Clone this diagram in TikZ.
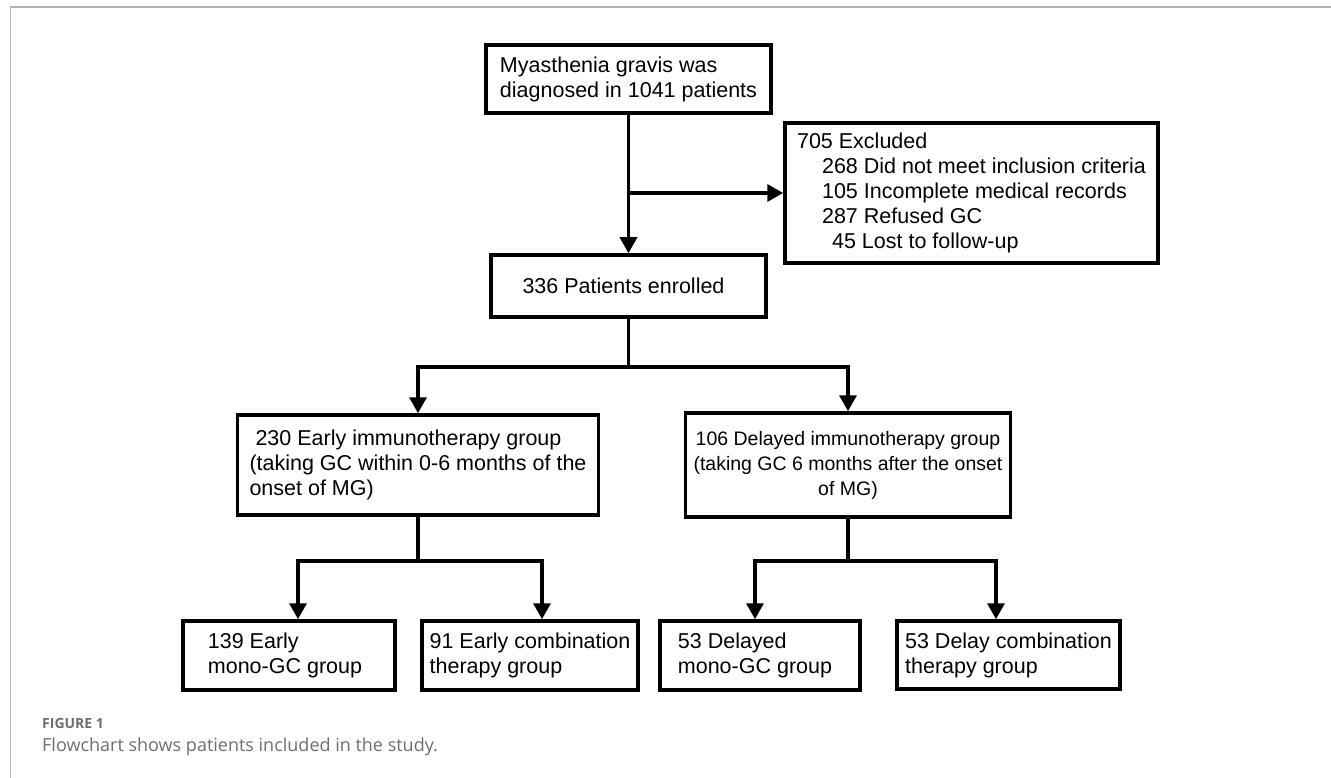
\documentclass[tikz,border=0pt]{standalone}
\usepackage{fontspec}
\setmainfont{Liberation Sans}
\newfontfamily\capfont{Open Sans}
\usetikzlibrary{arrows.meta}
\definecolor{capgray}{HTML}{6D6E71}
\definecolor{framegray}{HTML}{B4B4B4}
\tikzset{
  box/.style={draw, line width=3.5pt, inner sep=0pt, align=left,
    font=\fontsize{21.5}{25}\selectfont},
  conn/.style={line width=3.5pt},
  arr/.style={conn, -{Triangle[length=16pt,width=17pt]}},
}
\begin{document}
\begin{tikzpicture}[x=1pt,y=-1pt]
\useasboundingbox (0,0) rectangle (1331,778);
% frame
\draw[framegray, line width=2pt] (10,7) -- (1331,7);
\draw[framegray, line width=1pt] (10,7) -- (10,778);

% boxes
\node[box, minimum width=285pt, minimum height=68pt] (top) at (628.5,79)
  {Myasthenia gravis was\\diagnosed in 1041 patients};
\node[box, minimum width=373pt, minimum height=140pt] (excl) at (971.5,193)
  {705 Excluded\\
   \hspace*{25pt}268 Did not meet inclusion criteria\\
   \hspace*{25pt}105 Incomplete medical records\\
   \hspace*{25pt}287 Refused GC\\
   \hspace*{35pt}45 Lost to follow-up};
\node[box, minimum width=275pt, minimum height=62pt] (enr) at (628.5,286)
  {336 Patients enrolled\hspace*{10pt}};
\node[box, minimum width=361pt, minimum height=100pt] (early) at (418,465)
  {\hspace*{6pt}230 Early immunotherapy group\\(taking GC within 0-6 months of the\\onset of MG)};
\node[box, align=center, minimum width=325pt, minimum height=104pt,
  font=\fontsize{19.5}{25}\selectfont] (del) at (848,465)
  {106 Delayed immunotherapy group\\(taking GC 6 months after the onset\\of MG)};
\node[box, minimum width=212pt, minimum height=69pt] (em) at (289,655.5)
  {139 Early\\mono-GC group\hspace*{8pt}};
\node[box, minimum width=216pt, minimum height=69pt] (ec) at (530,655.5)
  {91 Early combination\\therapy group};
\node[box, minimum width=200pt, minimum height=69pt] (dm) at (760,655.5)
  {53 Delayed\\mono-GC group\hspace*{10pt}};
\node[box, minimum width=223pt, minimum height=68pt] (dc) at (1008.5,655)
  {53 Delay combination\\therapy group};

% connectors
\draw[arr] (top.south) -- (enr.north);
\draw[arr] (top.south |- excl.west) -- (excl.west);

\coordinate (j1) at (628.5,367);
\draw[conn] (enr.south) -- (j1);
\draw[arr] (j1) -| (early.north);
\draw[arr] (j1) -| (del.north);

\coordinate (j2) at (418,561);
\draw[conn] (early.south) -- (j2);
\draw[arr] (j2) -| ([xshift=9pt]em.north);
\draw[arr] (j2) -| ([xshift=12pt]ec.north);

\coordinate (j3) at (848,561);
\draw[conn] (del.south) -- (j3);
\draw[arr] (j3) -| ([xshift=-5pt]dm.north);
\draw[arr] (j3) -| ([xshift=-12.5pt]dc.north);

% caption
\node[anchor=west, inner sep=0pt, text=capgray, font=\capfont\bfseries\fontsize{14}{16}\selectfont] (figlab) at (42,723) {FIGURE 1};
\node[anchor=west, inner sep=0pt, text=capgray, font=\capfont\fontsize{18}{21}\selectfont] (figcap) at (42,747) {Flowchart shows patients included in the study.};
\end{tikzpicture}
\end{document}
